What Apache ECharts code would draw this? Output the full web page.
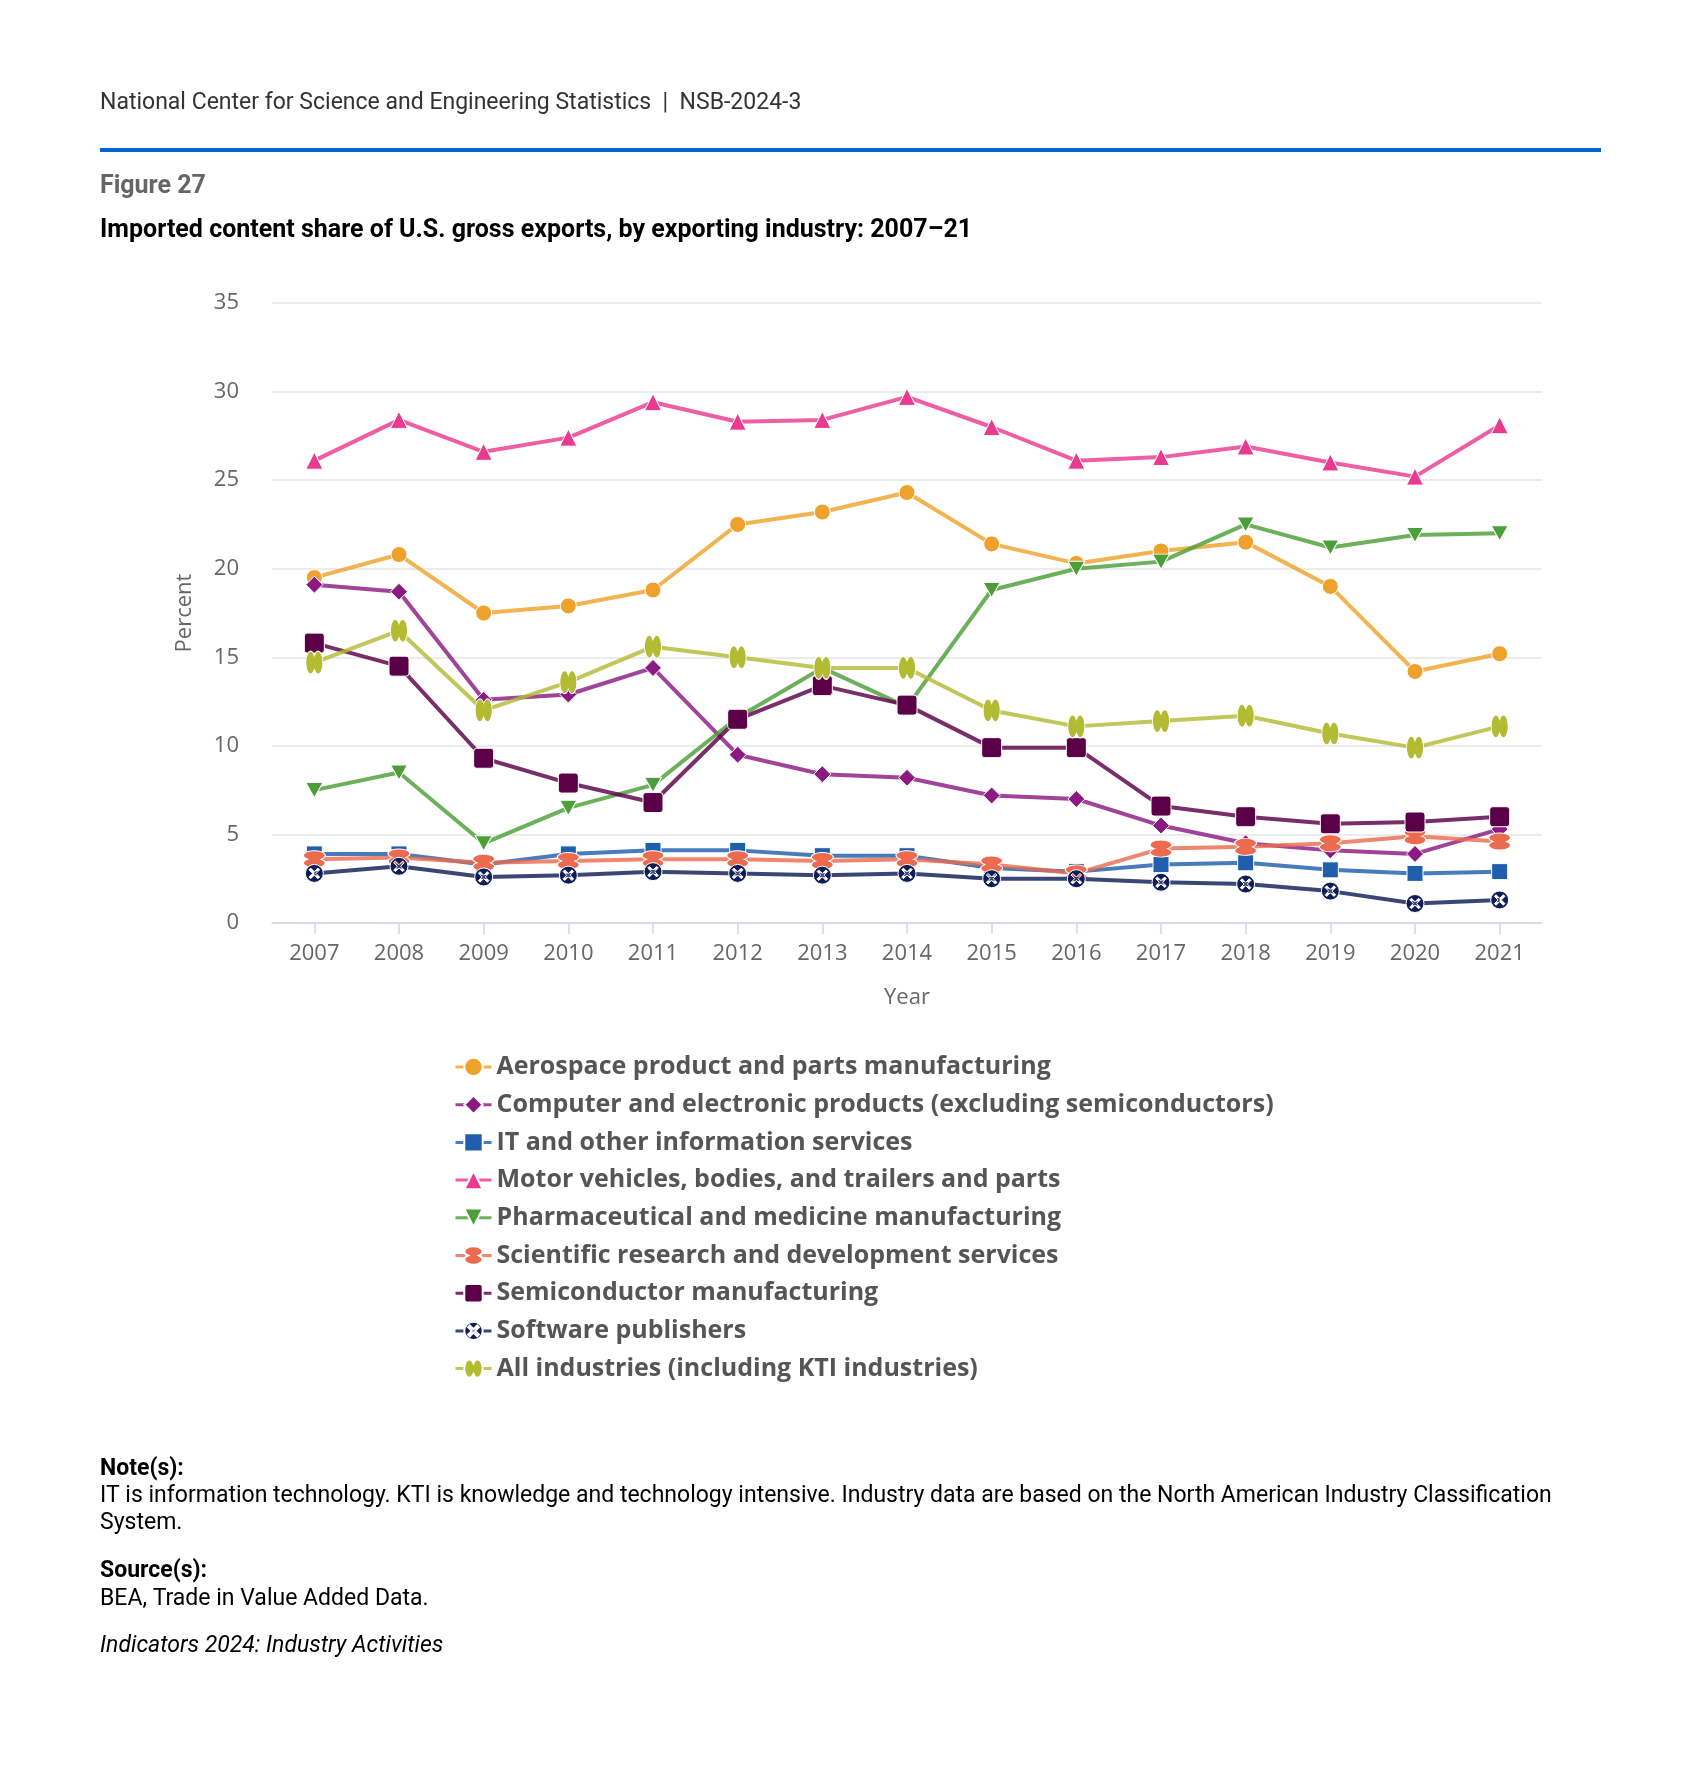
<!DOCTYPE html>
<html><head><meta charset="utf-8">
<script src="https://cdn.jsdelivr.net/npm/echarts@6/dist/echarts.min.js"></script>
<style>html,body{margin:0;padding:0;background:#fff}#c{width:1699px;height:1767px}</style>
</head><body><div id="c"></div>
<script>
const years = ['2007','2008','2009','2010','2011','2012','2013','2014','2015','2016','2017','2018','2019','2020','2021'];
const aerospace     = [19.5, 20.8, 17.5, 17.9, 18.8, 22.5, 23.2, 24.3, 21.4, 20.3, 21.0, 21.5, 19.0, 14.2, 15.2];
const computer      = [19.1, 18.7, 12.6, 12.9, 14.4, 9.5, 8.4, 8.2, 7.2, 7.0, 5.5, 4.5, 4.1, 3.9, 5.3];
const itServices    = [3.9, 3.9, 3.3, 3.9, 4.1, 4.1, 3.8, 3.8, 3.1, 2.9, 3.3, 3.4, 3.0, 2.8, 2.9];
const motorVehicles = [26.1, 28.4, 26.6, 27.4, 29.4, 28.3, 28.4, 29.7, 28.0, 26.1, 26.3, 26.9, 26.0, 25.2, 28.1];
const pharma        = [7.5, 8.5, 4.5, 6.5, 7.8, 11.6, 14.4, 12.2, 18.8, 20.0, 20.4, 22.5, 21.2, 21.9, 22.0];
const scientific    = [3.6, 3.7, 3.4, 3.5, 3.6, 3.6, 3.5, 3.6, 3.3, 2.8, 4.2, 4.3, 4.5, 4.9, 4.6];
const semiconductor = [15.8, 14.5, 9.3, 7.9, 6.8, 11.5, 13.4, 12.3, 9.9, 9.9, 6.6, 6.0, 5.6, 5.7, 6.0];
const software      = [2.8, 3.2, 2.6, 2.7, 2.9, 2.8, 2.7, 2.8, 2.5, 2.5, 2.3, 2.2, 1.8, 1.1, 1.3];
const allIndustries = [14.7, 16.5, 12.0, 13.6, 15.6, 15.0, 14.4, 14.4, 12.0, 11.1, 11.4, 11.7, 10.7, 9.9, 11.1];
const seriesNames = [
  'Aerospace product and parts manufacturing',
  'Computer and electronic products (excluding semiconductors)',
  'IT and other information services',
  'Motor vehicles, bodies, and trailers and parts',
  'Pharmaceutical and medicine manufacturing',
  'Scientific research and development services',
  'Semiconductor manufacturing',
  'Software publishers',
  'All industries (including KTI industries)'
];
const seriesData = [aerospace, computer, itServices, motorVehicles, pharma, scientific, semiconductor, software, allIndustries];
const colors = ['#EFA22B','#8B1B83','#1F5EAC','#E93A8F','#4C9F38','#EC6B4F','#5B0048','#0F1D57','#B3BB33'];

const SYM_SCI = 'path://M4,10 A10,5 0 1 1 16,10 A10,5 0 1 1 4,10 Z';
const SYM_ALL = 'path://M10,4 A5,10 0 1 0 10,16 A5,10 0 1 0 10,4 Z';
const SYM_SEMI = 'path://M3,0 L17,0 Q20,0 20,3 L20,17 Q20,20 17,20 L3,20 Q0,20 0,17 L0,3 Q0,0 3,0 Z';
const SYM_SOFT = 'path://M0,10 A10,10 0 1 1 20,10 A10,10 0 1 1 0,10 Z M14.03,4.13 L10,8.16 L5.97,4.13 L4.13,5.97 L8.16,10 L4.13,14.03 L5.97,15.87 L10,11.84 L14.03,15.87 L15.87,14.03 L11.84,10 L15.87,5.97 Z';
const symbols = ['circle','diamond','rect','triangle', 'path://M0,0 L20,0 L10,18 Z', SYM_SCI, SYM_SEMI, SYM_SOFT, SYM_ALL];
const symbolSizes = [16, 17, 16, 17, [17,15], [22,17], 20, 18, [17,23]];

const chart = echarts.init(document.getElementById('c'));
const series = seriesNames.map((name, i) => ({
  name: name,
  type: 'line',
  data: seriesData[i],
  symbol: symbols[i],
  symbolSize: symbolSizes[i],
  showAllSymbol: true,
  color: colors[i],
  lineStyle: {width: 4, color: colors[i], opacity: 0.82},
  itemStyle: {color: colors[i], borderColor: '#ffffff', borderWidth: 1, opacity: 1},
  emphasis: {disabled: true},
  z: 2 + i
}));

function txt(text, x, y, font, fill) {
  return {type: 'text', x: x, y: y, style: {text: text, font: font, fill: fill, align: 'left', verticalAlign: 'middle'}};
}

chart.setOption({
  animation: false,
  backgroundColor: '#ffffff',
  textStyle: {fontFamily: 'Open Sans'},
  grid: {left: 272, top: 303, width: 1270, height: 620, containLabel: false},
  xAxis: {
    type: 'category', data: years, boundaryGap: true,
    name: 'Year', nameLocation: 'middle', nameGap: 64,
    nameTextStyle: {fontFamily: 'Open Sans', fontSize: 22, color: '#666666'},
    axisLine: {lineStyle: {color: '#ccd6eb', width: 1.5}},
    axisTick: {show: true, alignWithLabel: true, length: 11, lineStyle: {color: '#ccd6eb', width: 1.5}},
    axisLabel: {fontFamily: 'Open Sans', fontSize: 22, color: '#666666', margin: 20},
    splitLine: {show: false}
  },
  yAxis: {
    type: 'value', min: 0, max: 35, interval: 5,
    name: 'Percent', nameLocation: 'middle', nameGap: 76, nameRotate: 90,
    nameTextStyle: {fontFamily: 'Open Sans', fontSize: 22, color: '#666666'},
    axisLine: {show: false}, axisTick: {show: false},
    axisLabel: {fontFamily: 'Open Sans', fontSize: 22, color: '#666666', margin: 33},
    splitLine: {lineStyle: {color: '#e6e6e6', width: 1.5}}
  },
  legend: {
    orient: 'vertical', left: 454, top: 1053, padding: 0,
    itemWidth: 36, itemHeight: 23, itemGap: 9.7,
    lineStyle: {width: 3},
    textStyle: {fontFamily: 'Open Sans', fontWeight: 'bold', fontSize: 25, color: '#555555', lineHeight: 28},
    data: seriesNames
  },
  graphic: [
    txt('National Center for Science and Engineering Statistics  |  NSB-2024-3', 100, 103, '23px Roboto', '#333333'),
    {type: 'rect', shape: {x: 100, y: 148, width: 1501, height: 4}, style: {fill: '#0065CC'}},
    txt('Figure 27', 100, 187, 'bold 25px Roboto', '#666666'),
    txt('Imported content share of U.S. gross exports, by exporting industry: 2007\u201321', 100, 231, 'bold 25px Roboto', '#000000'),
    txt('Note(s):', 100, 1469.5, 'bold 23px Roboto', '#000000'),
    txt('IT is information technology. KTI is knowledge and technology intensive. Industry data are based on the North American Industry Classification', 100, 1496.5, '23px Roboto', '#000000'),
    txt('System.', 100, 1523.5, '23px Roboto', '#000000'),
    txt('Source(s):', 100, 1571.5, 'bold 23px Roboto', '#000000'),
    txt('BEA, Trade in Value Added Data.', 100, 1599.5, '23px Roboto', '#000000'),
    txt('Indicators 2024: Industry Activities', 100, 1646.5, 'italic 23px Roboto', '#000000')
  ],
  series: series
});
</script></body></html>
